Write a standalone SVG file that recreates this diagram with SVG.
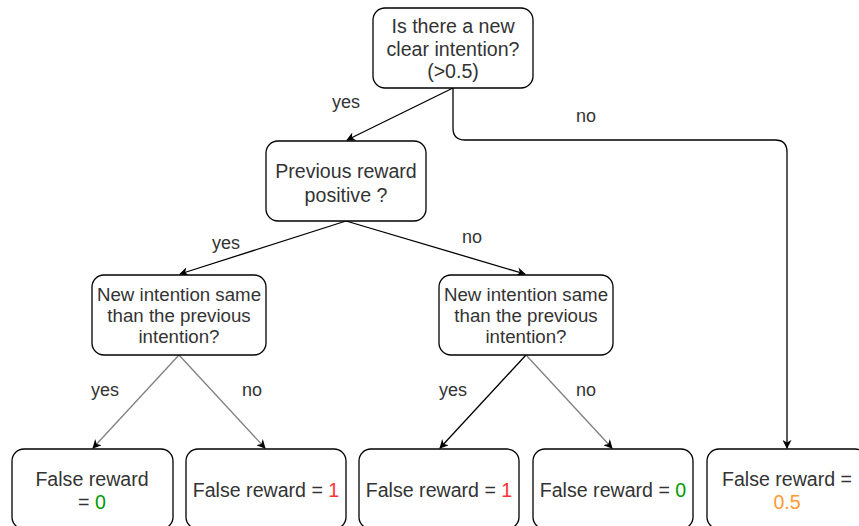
<svg xmlns="http://www.w3.org/2000/svg" width="859" height="526" viewBox="0 0 859 526">
<defs>
<style>
.box{fill:#fff;stroke:#000;stroke-width:1.3}
.t{font-family:"Liberation Sans",Arial,sans-serif;font-size:19.6px;fill:#333;text-anchor:middle}
.d{font-size:18.7px}
.l{font-size:18px}
.e{fill:none;stroke:#000;stroke-width:1.3}
.g{fill:none;stroke:#808080;stroke-width:1.3}
.green{fill:#009900}.red{fill:#ff3333}.orange{fill:#ff9933}
</style>
<marker id="a" viewBox="0 0 10 10" refX="9" refY="5" markerWidth="9" markerHeight="9" orient="auto" markerUnits="userSpaceOnUse"><path d="M0,0 L10,5 L0,10 L3,5 Z" fill="#000"/></marker>
</defs>
<rect width="859" height="526" fill="#fff"/>
<g id="connectors">
<line class="e" x1="453" y1="88" x2="347" y2="140" marker-end="url(#a)"/>
<path class="e" d="M453,88 V128 Q453,140 465,140 H775 Q787,140 787,152 V448" marker-end="url(#a)"/>
<line class="e" x1="346" y1="221" x2="180" y2="274" marker-end="url(#a)"/>
<line class="e" x1="346" y1="221" x2="525" y2="274" marker-end="url(#a)"/>
<line class="g" x1="179" y1="355" x2="93" y2="448" marker-end="url(#a)"/>
<line class="g" x1="179" y1="355" x2="265" y2="448" marker-end="url(#a)"/>
<line class="e" x1="526" y1="355" x2="440" y2="448" marker-end="url(#a)"/>
<line class="g" x1="526" y1="355" x2="612" y2="448" marker-end="url(#a)"/>
<text class="t l" x="346" y="108">yes</text>
<text class="t l" x="586" y="122">no</text>
<text class="t l" x="226" y="249">yes</text>
<text class="t l" x="472" y="243">no</text>
<text class="t l" x="105" y="396">yes</text>
<text class="t l" x="252" y="396">no</text>
<text class="t l" x="453" y="396">yes</text>
<text class="t l" x="586" y="396">no</text>
</g>
<g id="n1"><rect class="box" x="373" y="8" width="160" height="80" rx="12"/>
<text class="t" x="453" y="33">Is there a new</text><text class="t" x="453" y="55.5">clear intention?</text><text class="t" x="453" y="78">(&gt;0.5)</text></g>
<g id="n2"><rect class="box" x="266" y="141" width="160" height="80" rx="12"/>
<text class="t" x="346" y="178">Previous reward</text><text class="t" x="346" y="202">positive ?</text></g>
<g id="n3"><rect class="box" x="92" y="275" width="174" height="80" rx="12"/>
<text class="t d" x="179" y="301">New intention same</text><text class="t d" x="179" y="322">than the previous</text><text class="t d" x="179" y="343">intention?</text></g>
<g id="n4"><rect class="box" x="439" y="275" width="174" height="80" rx="12"/>
<text class="t d" x="526" y="301">New intention same</text><text class="t d" x="526" y="322">than the previous</text><text class="t d" x="526" y="343">intention?</text></g>
<g id="n5"><rect class="box" x="12" y="449" width="161" height="80" rx="12"/>
<text class="t" x="92" y="486">False reward</text><text class="t" x="92" y="509">= <tspan class="green">0</tspan></text></g>
<g id="n6"><rect class="box" x="186" y="449" width="160" height="80" rx="12"/>
<text class="t" x="266" y="497">False reward = <tspan class="red">1</tspan></text></g>
<g id="n7"><rect class="box" x="359" y="449" width="160" height="80" rx="12"/>
<text class="t" x="439" y="497">False reward = <tspan class="red">1</tspan></text></g>
<g id="n8"><rect class="box" x="533" y="449" width="160" height="80" rx="12"/>
<text class="t" x="613" y="497">False reward = <tspan class="green">0</tspan></text></g>
<g id="n9"><rect class="box" x="707" y="449" width="160" height="80" rx="12"/>
<text class="t" x="787" y="486">False reward =</text><text class="t" x="787" y="509"><tspan class="orange">0.5</tspan></text></g>
</svg>
